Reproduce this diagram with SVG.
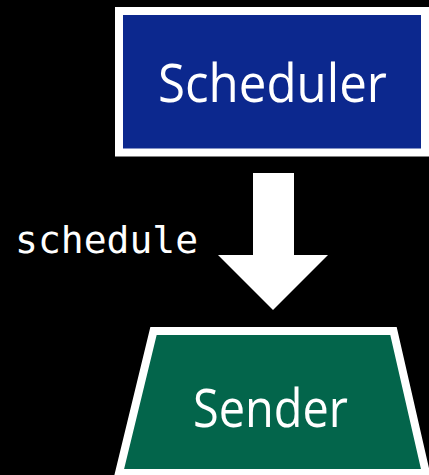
<svg xmlns="http://www.w3.org/2000/svg" width="429" height="475" viewBox="0 0 429 475">
<style>
.node{stroke:#fff;stroke-width:8;stroke-linejoin:miter}
.lbl{font-family:"Open Sans","DejaVu Sans",sans-serif;font-size:53px;fill:#fff;text-anchor:middle}
.code{font-family:"DejaVu Sans Mono","Liberation Mono",monospace;font-size:38px;fill:#fff}
</style>
<rect width="429" height="475" fill="#000"/>
<g id="scheduler">
<rect class="node" x="119" y="11" width="306" height="141.5" fill="#0c288e"/>
<text class="lbl" x="272.5" y="102" textLength="229" lengthAdjust="spacingAndGlyphs">Scheduler</text>
</g>
<g id="sender">
<polygon class="node" points="153.5,331 393.5,331 426,473 119,473" fill="#03654b"/>
<text class="lbl" x="270.5" y="427" textLength="155" lengthAdjust="spacingAndGlyphs">Sender</text>
</g>
<g id="connectors">
<polygon points="253,173 294,173 294,255 328,255 273,310 218,255 253,255" fill="#fff"/>
<text class="code" x="15" y="253">schedule</text>
</g>
</svg>
